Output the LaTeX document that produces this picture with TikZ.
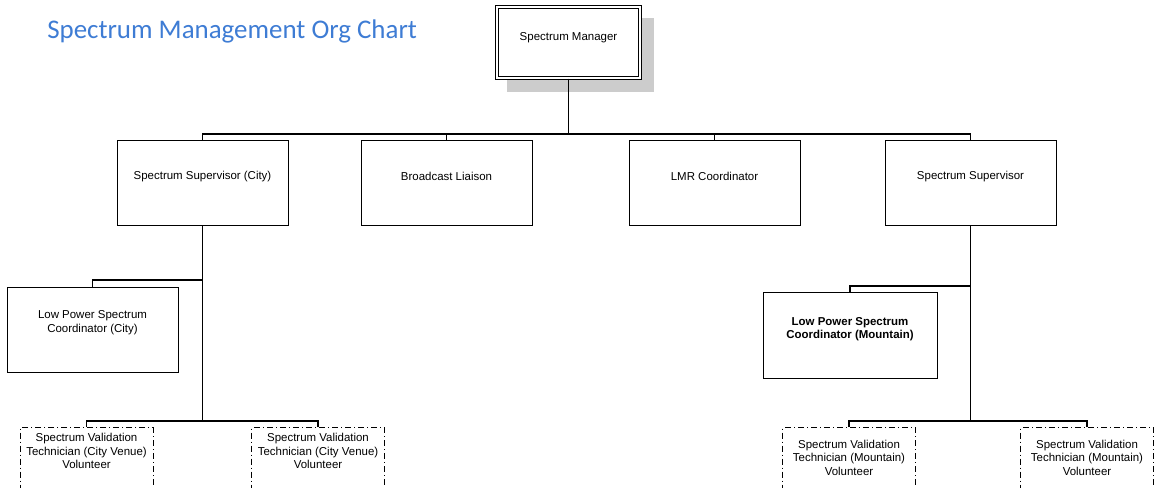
\documentclass[tikz,border=0pt]{standalone}
\usepackage{fontspec}
\setmainfont{Liberation Sans}
\newfontfamily\titlefont{Carlito}
\definecolor{titleblue}{RGB}{62,124,212}
\definecolor{shadowgray}{RGB}{204,204,204}
\begin{document}
\begin{tikzpicture}[x=0.75pt,y=-0.75pt,
  box/.style={draw, line width=0.75pt, minimum width=171*0.75pt, minimum height=85*0.75pt, inner sep=0pt},
  dbox/.style={draw, line width=0.75pt, dash pattern=on 4.5pt off 2.25pt on 0.75pt off 2.25pt,
     minimum width=133*0.75pt, minimum height=80*0.75pt, inner sep=0pt, anchor=north},
  txt/.style={font=\fontsize{8.6}{10.1}\selectfont, align=center, inner sep=0pt},
  btxt/.style={txt, font=\fontsize{8.6}{10.1}\selectfont\bfseries},
  conn/.style={line width=0.8pt}]
\useasboundingbox (0,0) rectangle (1154,487);
\clip (0,0) rectangle (1154,487);

% title
\node[anchor=base west, inner sep=0pt, text=titleblue, font=\titlefont\fontsize{20.2}{24}\selectfont] (title) at (47,38) {Spectrum Management Org Chart};

% manager
\fill[shadowgray] (507,18) rectangle (654,92);
\node[draw, line width=0.75pt, double, double distance=1.5pt, minimum width=143*0.75pt, minimum height=71*0.75pt, inner sep=0pt, fill=white] (mgr) at (568.5,42.5) {};
\node[txt] (mgrt) at (568.5,37.5) {Spectrum Manager};

% level 1
\node[box] (sc) at (202.5,182.5) {};
\node[txt] (sct) at (202.5,176.5) {Spectrum Supervisor (City)};
\node[box] (bl) at (446.5,182.5) {};
\node[txt] (blt) at (446.5,176.5) {Broadcast Liaison};
\node[box] (lmr) at (714.5,182.5) {};
\node[txt] (lmrt) at (714.5,176.5) {LMR Coordinator};
\node[box] (ss) at (970.5,182.5) {};
\node[txt] (sst) at (970.5,176.5) {Spectrum Supervisor};

\coordinate (bus) at (568.5,134);
\draw[conn] (mgr.south) -- (bus);
\draw[conn] (sc.north) |- (bus);
\draw[conn] (bl.north) |- (bus);
\draw[conn] (lmr.north) |- (bus);
\draw[conn] (ss.north) |- (bus);

% city subtree
\node[box] (lpc) at (92.5,329.5) {};
\node[txt] (lpct) at (92.5,322.5) {Low Power Spectrum\\Coordinator (City)};
\node[dbox] (v1) at (86.5,427) {};
\node[txt] (v1t) at (86.5,451) {Spectrum Validation\\Technician (City Venue)\\Volunteer};
\node[dbox] (v2) at (318,427) {};
\node[txt] (v2t) at (318,451) {Spectrum Validation\\Technician (City Venue)\\Volunteer};

\coordinate (cb1) at (202.5,280);
\coordinate (cb2) at (202.5,421);
\draw[conn] (sc.south) -- (cb2);
\draw[conn] (lpc.north) |- (cb1);
\draw[conn] (v1.north) |- (cb2);
\draw[conn] (v2.north) |- (cb2);

% mountain subtree
\node[box, minimum width=174*0.75pt, minimum height=86*0.75pt] (lpm) at (850,335) {};
\node[btxt] (lpmt) at (850,329) {Low Power Spectrum\\Coordinator (Mountain)};
\node[dbox] (v3) at (849,427) {};
\node[txt] (v3t) at (849,457.5) {Spectrum Validation\\Technician (Mountain)\\Volunteer};
\node[dbox] (v4) at (1087,427) {};
\node[txt] (v4t) at (1087,457.5) {Spectrum Validation\\Technician (Mountain)\\Volunteer};

\coordinate (mb1) at (970.5,286);
\coordinate (mb2) at (970.5,421);
\draw[conn] (ss.south) -- (mb2);
\draw[conn] (lpm.north) |- (mb1);
\draw[conn] (v3.north) |- (mb2);
\draw[conn] (v4.north) |- (mb2);
\end{tikzpicture}
\end{document}
